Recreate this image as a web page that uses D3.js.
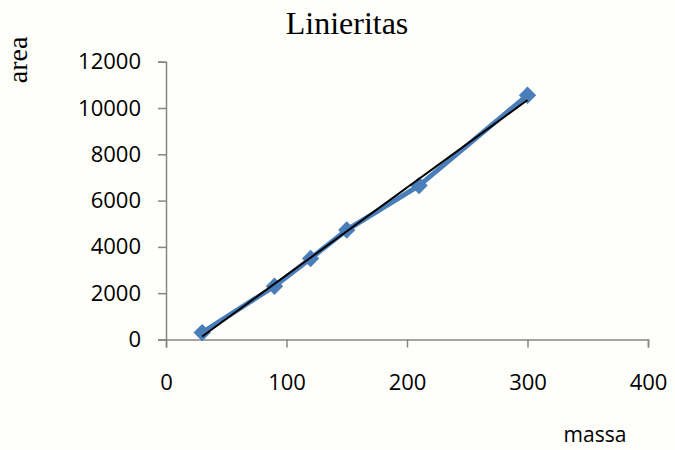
<!DOCTYPE html>
<html>
<head>
<meta charset="utf-8">
<script src="https://cdn.jsdelivr.net/npm/d3@7/dist/d3.min.js"></script>
<style>
  html, body { margin: 0; padding: 0; background: #fefefa; }
  svg { display: block; }
</style>
</head>
<body>
<svg id="chart" width="675" height="450"></svg>
<script>
// Calibration series: mass vs. peak area
const massa = [30, 90, 120, 150, 210, 300];
const area = [300, 2300, 3500, 4730, 6650, 10550];
const xTicks = [0, 100, 200, 300, 400];
const yTicks = [0, 2000, 4000, 6000, 8000, 10000, 12000];
const titleText = "Linieritas";
const xTitle = "massa";
const yTitle = "area";

const svg = d3.select("#chart");
const W = 675, H = 450;
svg.append("rect").attr("width", W).attr("height", H).attr("fill", "#fefefa");

const x = d3.scaleLinear().domain([0, 400]).range([166, 648]);
const y = d3.scaleLinear().domain([0, 12000]).range([339.5, 61.7]);

const axisColor = "#868686";
const tickFont = "'Open Sans', 'Liberation Sans', sans-serif";

// Y axis
const yAxis = svg.append("g")
  .attr("transform", `translate(${x(0)},0)`)
  .call(d3.axisLeft(y).tickValues(yTicks).tickSize(8).tickPadding(17).tickFormat(d3.format("d")));
yAxis.select(".domain").attr("stroke", axisColor).attr("stroke-width", 1.5);
yAxis.selectAll(".tick line").attr("stroke", axisColor).attr("stroke-width", 1.5);
yAxis.selectAll(".tick text")
  .attr("fill", "#000").attr("font-family", tickFont).attr("font-size", 22);

// X axis
const xAxis = svg.append("g")
  .attr("transform", `translate(0,${y(0)})`)
  .call(d3.axisBottom(x).tickValues(xTicks).tickSize(8).tickPadding(27).tickFormat(d3.format("d")));
xAxis.select(".domain").attr("stroke", axisColor).attr("stroke-width", 1.5);
xAxis.selectAll(".tick line").attr("stroke", axisColor).attr("stroke-width", 1.5);
xAxis.selectAll(".tick text")
  .attr("fill", "#000").attr("font-family", tickFont).attr("font-size", 22);

const pts = massa.map((m, i) => ({ m, a: area[i] }));

// Data line
svg.append("path")
  .datum(pts)
  .attr("fill", "none")
  .attr("stroke", "#4A7EBB")
  .attr("stroke-width", 5)
  .attr("stroke-linejoin", "round")
  .attr("d", d3.line().x(d => x(d.m)).y(d => y(d.a)));

// Diamond markers
const diamond = d3.symbol().type(d3.symbolSquare).size(150);
svg.selectAll(".marker")
  .data(pts)
  .join("path")
  .attr("class", "marker")
  .attr("d", diamond)
  .attr("fill", "#4A7EBB")
  .attr("transform", d => `translate(${x(d.m)},${y(d.a)}) rotate(45)`);

// Least-squares trend line over the data range
const mx = d3.mean(massa), my = d3.mean(area);
const sxy = d3.sum(massa, (v, i) => (v - mx) * (area[i] - my));
const sxx = d3.sum(massa, v => (v - mx) * (v - mx));
const slope = sxy / sxx, intercept = my - slope * mx;
const trendX = d3.extent(massa);
svg.append("line")
  .attr("x1", x(trendX[0])).attr("y1", y(intercept + slope * trendX[0]))
  .attr("x2", x(trendX[1])).attr("y2", y(intercept + slope * trendX[1]))
  .attr("stroke", "#000").attr("stroke-width", 2);

// Titles
svg.append("text")
  .attr("x", 347).attr("y", 34)
  .attr("text-anchor", "middle")
  .attr("font-family", "'Liberation Serif', 'Times New Roman', serif")
  .attr("font-size", 32)
  .text(titleText);

svg.append("text")
  .attr("transform", "translate(27,60) rotate(-90)")
  .attr("text-anchor", "middle")
  .attr("font-family", "'Liberation Serif', 'Times New Roman', serif")
  .attr("font-size", 28)
  .text(yTitle);

svg.append("text")
  .attr("x", 595).attr("y", 442)
  .attr("text-anchor", "middle")
  .attr("font-family", tickFont)
  .attr("font-size", 21)
  .text(xTitle);
</script>
</body>
</html>
